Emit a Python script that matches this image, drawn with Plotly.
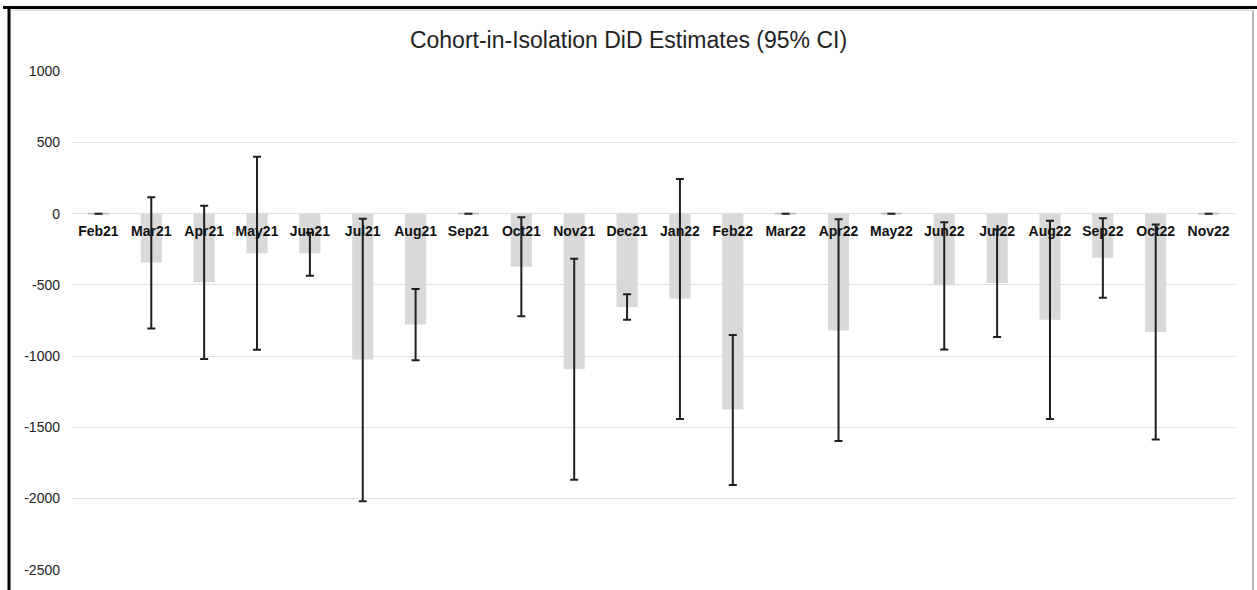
import plotly.graph_objects as go

# ---- data ----
cohorts = ["Feb21", "Mar21", "Apr21", "May21", "Jun21", "Jul21", "Aug21", "Sep21",
           "Oct21", "Nov21", "Dec21", "Jan22", "Feb22", "Mar22", "Apr22", "May22",
           "Jun22", "Jul22", "Aug22", "Sep22", "Oct22", "Nov22"]
estimate = [0, -343, -481, -278, -278, -1023, -778, 0,
            -373, -1093, -655, -597, -1375, 0, -820, 0,
            -502, -486, -745, -310, -831, 0]
ci_high = [None, 116, 56, 400, -134, -35, -528, None,
           -25, -317, -565, 243, -852, None, -39, None,
           -60, -111, -49, -32, -76, None]
ci_low = [None, -806, -1021, -956, -435, -2019, -1030, None,
          -720, -1868, -745, -1442, -1905, None, -1597, None,
          -954, -866, -1442, -590, -1586, None]
y_ticks = [1000, 500, 0, -500, -1000, -1500, -2000, -2500]
y_tick_text = ["1000", "500", "0", "-500", "-1000", "-1500", "-2000", "-2500"]
title_text = "Cohort-in-Isolation DiD Estimates (95% CI)"

# ---- derived ----
err_plus = [(h - e) if h is not None else 0 for e, h in zip(estimate, ci_high)]
err_minus = [(e - l) if l is not None else 0 for e, l in zip(estimate, ci_low)]
zero_line_w = [1.8 if v == 0 else 0 for v in estimate]

y_range = [-2502, 1002]
zero_pos = (0 - y_range[0]) / (y_range[1] - y_range[0])

fig = go.Figure()

fig.add_trace(go.Bar(
    x=cohorts, y=estimate,
    marker=dict(color="#d9d9d9", line=dict(color="#bdbdbd", width=zero_line_w)),
    hoverinfo="x+y", showlegend=False,
))

fig.add_trace(go.Scatter(
    x=cohorts, y=estimate, mode="markers",
    marker=dict(size=1, color="rgba(0,0,0,0)"),
    error_y=dict(type="data", symmetric=False, array=err_plus, arrayminus=err_minus,
                 color="#1f1f1f", thickness=2, width=4),
    showlegend=False, hoverinfo="skip",
))

FONT = "Liberation Sans, Arial, Helvetica, sans-serif"

fig.update_layout(
    width=1257, height=590,
    margin=dict(l=72, r=22, t=71, b=17),
    paper_bgcolor="white", plot_bgcolor="white",
    bargap=0.6,
    title=dict(text=title_text, x=0.5, xanchor="center", y=1 - 40 / 590, yanchor="middle",
               font=dict(family=FONT, size=23, color="#222222")),
    xaxis=dict(
        anchor="free", position=zero_pos,
        range=[-0.5, len(cohorts) - 0.5],
        showgrid=False, zeroline=False, showline=False, ticks="",
        tickfont=dict(family=FONT, size=14, color="#111111", weight="bold"),
        ticklabelstandoff=7,
        fixedrange=True,
    ),
    yaxis=dict(
        range=y_range, tickvals=y_ticks, ticktext=y_tick_text,
        showgrid=True, gridcolor="#e0e0e0", gridwidth=1,
        zeroline=True, zerolinecolor="#e0e0e0", zerolinewidth=1,
        showline=False, ticks="",
        tickfont=dict(family=FONT, size=14, color="#222222"),
        ticklabelstandoff=11,
    ),
    shapes=[
        # page frame (black) left and top, chart frame (grey) right
        dict(type="line", xref="paper", yref="paper",
             x0=(3 - 72) / 1163, x1=(1257 - 72) / 1163,
             y0=(573 - 7) / 502, y1=(573 - 7) / 502,
             line=dict(color="black", width=3)),
        dict(type="line", xref="paper", yref="paper",
             x0=(12 - 72) / 1163, x1=(1252 - 72) / 1163,
             y0=(573 - 10) / 502, y1=(573 - 10) / 502,
             line=dict(color="#dddddd", width=1.5)),
        dict(type="line", xref="paper", yref="paper",
             x0=(9 - 72) / 1163, x1=(9 - 72) / 1163,
             y0=(573 - 6) / 502, y1=(573 - 600) / 502,
             line=dict(color="black", width=3)),
        dict(type="line", xref="paper", yref="paper",
             x0=(1253 - 72) / 1163, x1=(1253 - 72) / 1163,
             y0=(573 - 10) / 502, y1=(573 - 600) / 502,
             line=dict(color="#b8b8b8", width=2)),
    ],
)

fig.write_html("out.html", config={"displayModeBar": False},
               post_script="document.body.style.margin='0px';")
